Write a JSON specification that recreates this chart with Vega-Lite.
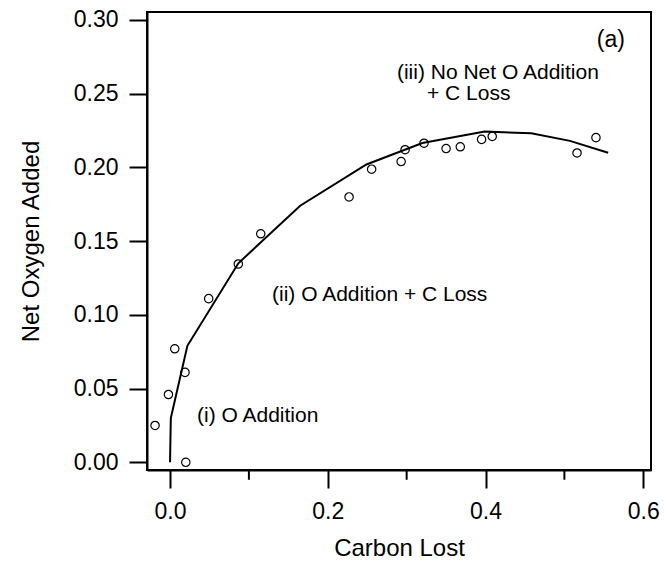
{
  "$schema": "https://vega.github.io/schema/vega-lite/v6.json",
  "autosize": {"type": "none"},
  "width": 504,
  "height": 458,
  "padding": {"left": 147, "top": 12, "right": 13, "bottom": 96},
  "background": "white",
  "config": {
    "view": {"stroke": "black", "strokeWidth": 2},
    "font": "Liberation Sans",
    "axis": {
      "labelFont": "Liberation Sans",
      "titleFont": "Liberation Sans",
      "labelColor": "black",
      "titleColor": "black",
      "titleFontWeight": "normal",
      "domainColor": "black",
      "domainWidth": 2,
      "tickColor": "black",
      "tickWidth": 2,
      "grid": false,
      "labelFontSize": 23,
      "titleFontSize": 24
    }
  },
  "datasets": {
    "pts": [
      {"c": -0.019, "o": 0.025},
      {"c": -0.002, "o": 0.046},
      {"c": 0.006, "o": 0.077},
      {"c": 0.019, "o": 0.061},
      {"c": 0.020, "o": 0.0},
      {"c": 0.049, "o": 0.111},
      {"c": 0.0866, "o": 0.1345},
      {"c": 0.115, "o": 0.155},
      {"c": 0.227, "o": 0.180},
      {"c": 0.2556, "o": 0.1988},
      {"c": 0.293, "o": 0.204},
      {"c": 0.298, "o": 0.212},
      {"c": 0.322, "o": 0.2164},
      {"c": 0.350, "o": 0.2128},
      {"c": 0.368, "o": 0.214},
      {"c": 0.395, "o": 0.219},
      {"c": 0.4085, "o": 0.221},
      {"c": 0.516, "o": 0.2098},
      {"c": 0.540, "o": 0.2202}
    ],
    "fit": [
      {"c": 0.0, "o": 0.0},
      {"c": 0.001, "o": 0.030},
      {"c": 0.022, "o": 0.079},
      {"c": 0.0866, "o": 0.135},
      {"c": 0.165, "o": 0.174},
      {"c": 0.249, "o": 0.202},
      {"c": 0.32, "o": 0.2165},
      {"c": 0.399, "o": 0.2243},
      {"c": 0.458, "o": 0.2232},
      {"c": 0.507, "o": 0.218},
      {"c": 0.5555, "o": 0.210}
    ],
    "minor": [
      {"c": 0.1},
      {"c": 0.3},
      {"c": 0.5}
    ],
    "notes": [
      {"c": 0.541, "o": 0.2865, "t": "(a)", "s": 23},
      {"c": 0.2877, "o": 0.2641, "t": "(iii) No Net O Addition", "s": 21},
      {"c": 0.3257, "o": 0.2499, "t": "+ C Loss", "s": 21},
      {"c": 0.1293, "o": 0.1135, "t": "(ii) O Addition + C Loss", "s": 21},
      {"c": 0.0342, "o": 0.0314, "t": "(i) O Addition", "s": 21}
    ]
  },
  "layer": [
    {
      "data": {"name": "fit"},
      "mark": {"type": "line", "color": "black", "strokeWidth": 2},
      "encoding": {
        "x": {"field": "c", "type": "quantitative",
          "scale": {"domain": [-0.0292, 0.6098], "nice": false, "zero": false},
          "axis": {"orient": "bottom", "title": "Carbon Lost", "values": [0, 0.2, 0.4, 0.6], "format": ".1f",
            "tickSize": 18, "labelPadding": 12, "titleX": 252, "titleY": 78, "titleBaseline": "middle", "titleAlign": "center"}},
        "y": {"field": "o", "type": "quantitative",
          "scale": {"domain": [-0.0052, 0.3054], "nice": false, "zero": false},
          "axis": {"title": "Net Oxygen Added", "values": [0, 0.05, 0.1, 0.15, 0.2, 0.25, 0.3], "format": ".2f",
            "tickSize": 18, "labelPadding": 11, "titleX": -116, "titleY": 229, "titleBaseline": "middle", "titleAlign": "center", "titleAngle": -90}}
      }
    },
    {
      "data": {"name": "minor"},
      "mark": {"type": "rule", "color": "black", "strokeWidth": 2, "clip": false},
      "encoding": {
        "x": {"field": "c", "type": "quantitative"},
        "y": {"datum": -0.0055},
        "y2": {"datum": -0.0118}
      }
    },
    {
      "data": {"name": "pts"},
      "mark": {"type": "point", "shape": "circle", "filled": false, "color": "black", "strokeWidth": 1.2, "size": 70, "opacity": 1},
      "encoding": {
        "x": {"field": "c", "type": "quantitative"},
        "y": {"field": "o", "type": "quantitative"}
      }
    },
    {
      "data": {"name": "notes"},
      "mark": {"type": "text", "align": "left", "baseline": "middle", "color": "black", "font": "Liberation Sans"},
      "encoding": {
        "x": {"field": "c", "type": "quantitative"},
        "y": {"field": "o", "type": "quantitative"},
        "text": {"field": "t"},
        "size": {"field": "s", "type": "quantitative", "scale": null}
      }
    }
  ]
}
